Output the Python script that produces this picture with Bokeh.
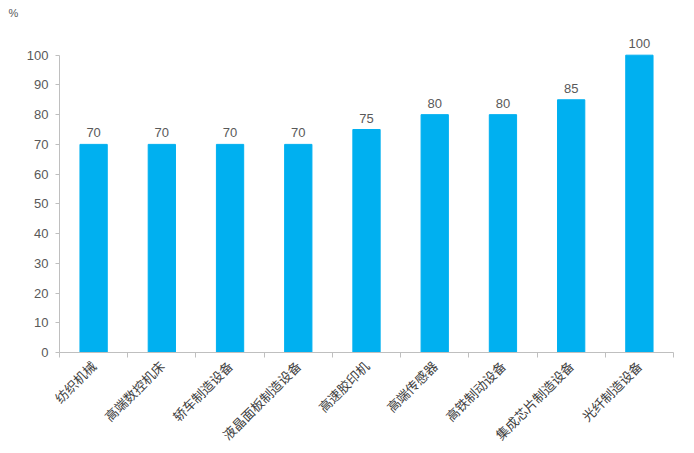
from bokeh.plotting import figure
from bokeh.models import ColumnDataSource, FixedTicker, Range1d, LabelSet
from bokeh.core.properties import value
from bokeh.embed import file_html
from bokeh.resources import INLINE
import math

categories = ["纺织机械", "高端数控机床", "轿车制造设备", "液晶面板制造设备", "高速胶印机",
              "高端传感器", "高铁制动设备", "集成芯片制造设备", "光纤制造设备"]
values = [70, 70, 70, 70, 75, 80, 80, 85, 100]
y_ticks = [0, 10, 20, 30, 40, 50, 60, 70, 80, 90, 100]
unit = "%"

FONT = "Noto Sans CJK SC"
NUMFONT = "Liberation Sans"
GRAY = "#595959"
AXIS = "#BFBFBF"

xs = [i + 0.5 for i in range(len(categories))]
src = ColumnDataSource(dict(x=xs, top=values, lab=[str(v) for v in values]))

p = figure(frame_width=614, frame_height=333, output_backend="svg", toolbar_location=None,
           x_range=Range1d(0, len(categories)), y_range=Range1d(0, 112),
           min_border_left=59, min_border_right=13, min_border_top=19, min_border_bottom=20,
           title=unit)
p.outline_line_color = None
p.grid.grid_line_color = None

p.title.align = "left"
p.title.offset = -51
p.title.standoff = 2
p.title.text_font = NUMFONT
p.title.text_font_size = "11px"
p.title.text_font_style = "normal"
p.title.text_color = GRAY

p.vbar(x="x", top="top", width=0.4, source=src, color="#00B0F0")

labels = LabelSet(x="x", y="top", text="lab", source=src, text_align="center",
                  text_baseline="bottom", y_offset=7, text_font_size=value("13px"),
                  text_color=value(GRAY), text_font=value(NUMFONT))
p.add_layout(labels)

# x axis
p.xaxis.ticker = FixedTicker(ticks=xs, minor_ticks=list(range(len(categories) + 1)))
p.xaxis.major_label_overrides = {x: c for x, c in zip(xs, categories)}
p.xaxis.major_label_orientation = math.pi / 4
p.xaxis.major_tick_in = 0
p.xaxis.major_tick_out = 0
p.xaxis.minor_tick_in = 0
p.xaxis.minor_tick_out = 5
p.xaxis.minor_tick_line_color = AXIS
p.xaxis.axis_line_color = AXIS
p.xaxis.major_label_text_font = FONT
p.xaxis.major_label_text_font_size = "13px"
p.xaxis.major_label_text_color = "#404040"
p.xaxis.major_label_standoff = 6

# y axis
p.yaxis.ticker = FixedTicker(ticks=y_ticks)
p.yaxis.bounds = (0, 100)
p.yaxis.major_tick_in = 0
p.yaxis.major_tick_out = 4
p.yaxis.minor_tick_line_color = None
p.yaxis.axis_line_color = AXIS
p.yaxis.major_tick_line_color = AXIS
p.yaxis.major_label_text_font = NUMFONT
p.yaxis.major_label_text_font_size = "13px"
p.yaxis.major_label_text_color = GRAY
p.yaxis.major_label_standoff = 7

open("out.html", "w").write(file_html(p, INLINE))
